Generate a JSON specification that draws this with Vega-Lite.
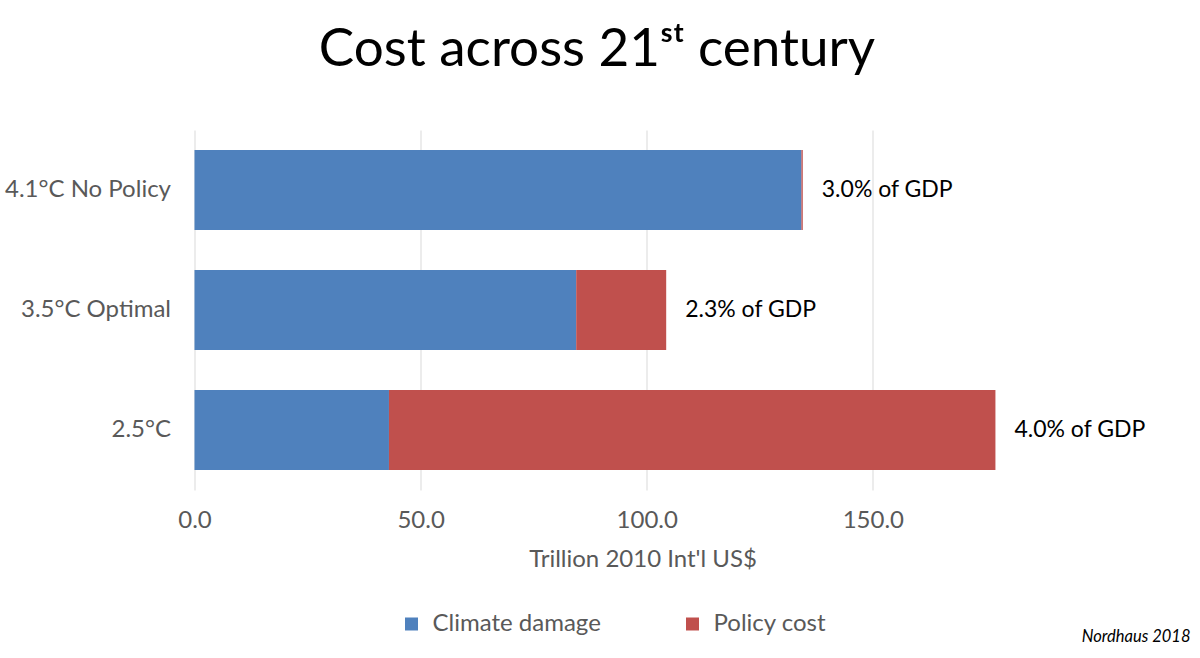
{
  "$schema": "https://vega.github.io/schema/vega-lite/v6.json",
  "autosize": {"type": "none"},
  "width": 805,
  "height": 360,
  "padding": {"left": 194.5, "top": 130, "right": 200.5, "bottom": 168},
  "background": "white",
  "config": {
    "font": "Lato",
    "view": {"stroke": null}
  },
  "title": {
    "text": "Cost across 21ˢᵗ century",
    "fontSize": 53,
    "fontWeight": "normal",
    "color": "#000000",
    "anchor": "middle",
    "offset": 53
  },
  "data": {
    "values": [
      {"scenario": "4.1°C No Policy", "component": "Climate damage", "value": 134.2, "gdp": "3.0% of GDP"},
      {"scenario": "4.1°C No Policy", "component": "Policy cost", "value": 0.3, "gdp": "3.0% of GDP"},
      {"scenario": "3.5°C Optimal", "component": "Climate damage", "value": 84.4, "gdp": "2.3% of GDP"},
      {"scenario": "3.5°C Optimal", "component": "Policy cost", "value": 19.9, "gdp": "2.3% of GDP"},
      {"scenario": "2.5°C", "component": "Climate damage", "value": 43.0, "gdp": "4.0% of GDP"},
      {"scenario": "2.5°C", "component": "Policy cost", "value": 134.1, "gdp": "4.0% of GDP"}
    ]
  },
  "encoding": {
    "y": {
      "field": "scenario",
      "type": "nominal",
      "sort": ["4.1°C No Policy", "3.5°C Optimal", "2.5°C"],
      "scale": {"paddingInner": 0.3333, "paddingOuter": 0.1667},
      "axis": {
        "title": null,
        "domain": false,
        "ticks": false,
        "labelFontSize": 24,
        "labelColor": "#595959",
        "labelPadding": 24
      }
    }
  },
  "layer": [
    {
      "mark": {"type": "bar"},
      "encoding": {
        "x": {
          "field": "value",
          "type": "quantitative",
          "stack": "zero",
          "scale": {"domain": [0, 178], "nice": false},
          "axis": {
            "title": "Trillion 2010 Int'l US$",
            "values": [0, 50, 100, 150],
            "format": ".1f",
            "domain": false,
            "ticks": false,
            "grid": true,
            "gridColor": "#d9d9d9",
            "gridWidth": 1,
            "labelFlush": false,
            "labelFontSize": 24,
            "labelColor": "#595959",
            "labelPadding": 18,
            "titleFontSize": 24,
            "titleFontWeight": "normal",
            "titleColor": "#595959",
            "titlePadding": 15,
            "titleX": 448,
            "titleAlign": "center"
          }
        },
        "color": {
          "field": "component",
          "type": "nominal",
          "scale": {"domain": ["Climate damage", "Policy cost"], "range": ["#4F81BD", "#C0504D"]},
          "legend": {
            "title": null,
            "orient": "none",
            "direction": "horizontal",
            "legendX": 205,
            "legendY": 482,
            "symbolType": "square",
            "symbolSize": 169,
            "symbolStrokeWidth": 0,
            "labelFontSize": 24,
            "labelColor": "#595959",
            "labelOffset": 9,
            "labelLimit": 400,
            "columnPadding": 79
          }
        }
      }
    },
    {
      "transform": [
        {"aggregate": [{"op": "sum", "field": "value", "as": "total"}], "groupby": ["scenario", "gdp"]}
      ],
      "mark": {"type": "text", "align": "left", "baseline": "middle", "dx": 19, "fontSize": 23, "color": "#000000"},
      "encoding": {
        "x": {"field": "total", "type": "quantitative"},
        "text": {"field": "gdp"}
      }
    },
    {
      "data": {"values": [{"note": "Nordhaus 2018"}]},
      "mark": {"type": "text", "align": "right", "baseline": "middle", "fontSize": 16.5, "fontStyle": "italic", "color": "#000000", "dx": 191, "dy": 147},
      "encoding": {
        "x": {"datum": 178, "type": "quantitative"},
        "y": {"value": 360},
        "text": {"field": "note"}
      }
    }
  ]
}
